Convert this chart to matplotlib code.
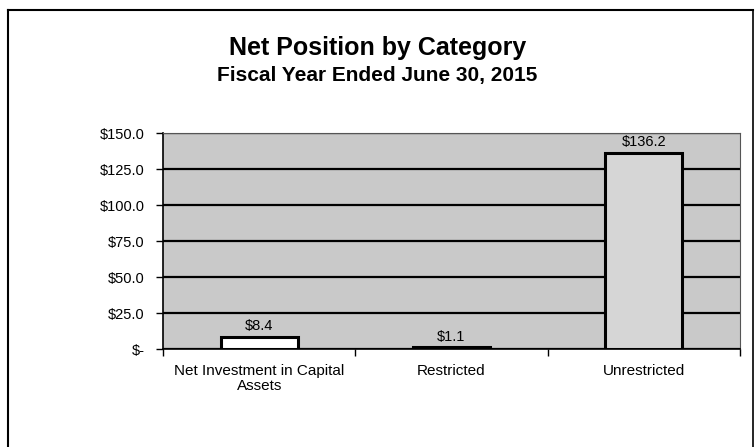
import matplotlib
matplotlib.use("Agg")
import matplotlib.pyplot as plt
from matplotlib.lines import Line2D
from matplotlib.ticker import FixedLocator

plt.rcParams['font.family'] = ['Liberation Sans', 'DejaVu Sans']

categories = ["Net Investment in Capital\nAssets", "Restricted", "Unrestricted"]
values = [8.4, 1.1, 136.2]
value_labels = ["$8.4", "$1.1", "$136.2"]
y_ticks = [0, 25, 50, 75, 100, 125, 150]
y_tick_labels = ["$-", "$25.0", "$50.0", "$75.0", "$100.0", "$125.0", "$150.0"]
title = "Net Position by Category"
subtitle = "Fiscal Year Ended June 30, 2015"

W, H = 755, 447
fig = plt.figure(figsize=(W / 100, H / 100), dpi=100)
fig.patch.set_facecolor("white")

# outer chart border
fig.add_artist(Line2D([8 / W, 8 / W], [0, 1 - 10 / H], transform=fig.transFigure, color="black", lw=1.5))
fig.add_artist(Line2D([8 / W, 753 / W], [1 - 10 / H, 1 - 10 / H], transform=fig.transFigure, color="black", lw=1.5))
fig.add_artist(Line2D([753 / W, 753 / W], [0, 1 - 10 / H], transform=fig.transFigure, color="black", lw=1.2))

left, right, top, bottom = 163, 740, 133, 349
ax = fig.add_axes([left / W, 1 - bottom / H, (right - left) / W, (bottom - top) / H])
ax.set_facecolor("#c9c9c9")

x = list(range(len(categories)))
colors = ["white", "white", "#d6d6d6"]
bars = ax.bar(x, values, width=0.4, color=colors, edgecolor="black", linewidth=2.2, zorder=3)

ax.set_ylim(0, 150)
ax.set_xlim(-0.5, len(categories) - 0.5)
ax.set_yticks(y_ticks)
ax.set_yticklabels(y_tick_labels, fontsize=10.5)
ax.yaxis.grid(True, color="black", linewidth=1.6, zorder=1)
ax.set_axisbelow(True)

ax.xaxis.set_major_locator(FixedLocator([i - 0.5 for i in range(len(categories) + 1)]))
ax.set_xticklabels([])
ax.tick_params(axis="x", length=5, width=1, direction="out")
ax.tick_params(axis="y", length=5, width=1, direction="out", pad=8)

for i, lab in enumerate(categories):
    ax.text(i, -10.5, lab, ha="center", va="top", fontsize=11, linespacing=1.1,
            transform=ax.transData, clip_on=False)

for i, (v, lab) in enumerate(zip(values, value_labels)):
    ax.text(i, v + 2.5, lab, ha="center", va="bottom", fontsize=10.5, zorder=4)

for s in ["left", "bottom"]:
    ax.spines[s].set_linewidth(1.2)
for s in ["top", "right"]:
    ax.spines[s].set_linewidth(0.8)
    ax.spines[s].set_color("#555555")

fig.text(0.5, 1 - 48 / H, title, ha="center", va="center", fontsize=18, fontweight="bold")
fig.text(0.5, 1 - 76 / H, subtitle, ha="center", va="center", fontsize=15, fontweight="bold")

fig.savefig("out.png", dpi=100)
